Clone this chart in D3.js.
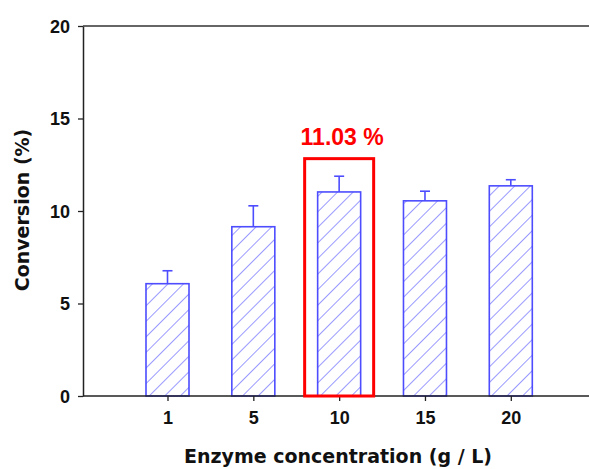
<!DOCTYPE html>
<html>
<head>
<meta charset="utf-8">
<script src="https://cdn.jsdelivr.net/npm/d3@7"></script>
<style>
  body { margin: 0; background: #fff; }
  svg { display: block; }
  .tick text { font-family: "Liberation Sans", Arial, sans-serif; font-weight: bold; font-size: 18px; fill: #111; }
  .axisTitle { font-family: "DejaVu Sans", sans-serif; font-weight: bold; font-size: 19px; fill: #111; }
</style>
</head>
<body>
<svg id="chart" width="589" height="469"></svg>
<script>
const categories = ['1', '5', '10', '15', '20']
const conversion = [6.07, 9.15, 11.03, 10.55, 11.36]
const errors = [0.70, 1.13, 0.85, 0.52, 0.33]
const yTicks = [0, 5, 10, 15, 20]
const highlightCat = '10'
const highlightLabel = '11.03 %'
const highlightTop = 12.83

const dim = { width: 589, height: 469, margin: { top: 26, left: 83, bottom: 73 } }
const blue = '#4d4dff'

const svg = d3.select('#chart')

const xScale = d3.scalePoint()
  .domain(categories)
  .range([167.5, 510.8])

const yScale = d3.scaleLinear()
  .domain([0, 20])
  .range([dim.height - dim.margin.bottom, dim.margin.top])

// hatch pattern for the bars
const defs = svg.append('defs')
const pat = defs.append('pattern')
  .attr('id', 'hatch')
  .attr('patternUnits', 'userSpaceOnUse')
  .attr('width', 11)
  .attr('height', 11)
  .attr('patternTransform', 'rotate(45)')
pat.append('line')
  .attr('x1', 0).attr('y1', 0).attr('x2', 0).attr('y2', 11)
  .attr('stroke', '#6262ff')
  .attr('stroke-width', 1.3)

const barW = 43
const data = categories.map((c, i) => ({ cat: c, value: conversion[i], err: errors[i] }))

// bars
svg.append('g').selectAll('rect')
  .data(data)
  .join('rect')
  .attr('x', d => xScale(d.cat) - barW / 2)
  .attr('y', d => yScale(d.value))
  .attr('width', barW)
  .attr('height', d => yScale(0) - yScale(d.value))
  .attr('fill', 'url(#hatch)')
  .attr('stroke', blue)
  .attr('stroke-width', 1.6)

// error bars
const eb = svg.append('g').attr('stroke', blue).attr('stroke-width', 1.6)
eb.selectAll('line.stem')
  .data(data)
  .join('line')
  .attr('class', 'stem')
  .attr('x1', d => xScale(d.cat)).attr('x2', d => xScale(d.cat))
  .attr('y1', d => yScale(d.value)).attr('y2', d => yScale(d.value + d.err))
eb.selectAll('line.cap')
  .data(data)
  .join('line')
  .attr('class', 'cap')
  .attr('x1', d => xScale(d.cat) - 5).attr('x2', d => xScale(d.cat) + 5)
  .attr('y1', d => yScale(d.value + d.err)).attr('y2', d => yScale(d.value + d.err))

// y axis
svg.append('g')
  .attr('transform', `translate(${dim.margin.left},0)`)
  .call(d3.axisLeft(yScale).tickValues(yTicks).tickSize(5).tickSizeOuter(0).tickPadding(8))
  .call(g => g.select('.domain').attr('stroke', '#222').attr('stroke-width', 1.5))
  .call(g => g.selectAll('.tick line').attr('stroke', '#222').attr('stroke-width', 1.3))
  .call(g => g.selectAll('.tick text').attr('dy', '0.36em'))

// x axis
const xAx = svg.append('g')
  .attr('transform', `translate(0,${yScale(0)})`)
  .call(d3.axisBottom(xScale).tickSize(5).tickPadding(10))
xAx.select('.domain').remove()
xAx.selectAll('.tick line').attr('stroke', '#222').attr('stroke-width', 1.3)
xAx.append('line')
  .attr('x1', dim.margin.left).attr('x2', dim.width)
  .attr('stroke', '#222').attr('stroke-width', 1.5)

// top frame line
svg.append('line')
  .attr('x1', dim.margin.left).attr('x2', dim.width)
  .attr('y1', yScale(20)).attr('y2', yScale(20))
  .attr('stroke', '#333').attr('stroke-width', 1.5)

// highlight box and label
const hx = xScale(highlightCat)
svg.append('rect')
  .attr('x', hx - 34.5)
  .attr('y', yScale(highlightTop))
  .attr('width', 69)
  .attr('height', yScale(0) - yScale(highlightTop))
  .attr('fill', 'none')
  .attr('stroke', '#ff0000')
  .attr('stroke-width', 3)
svg.append('text')
  .attr('x', hx + 3)
  .attr('y', yScale(highlightTop) - 14)
  .attr('text-anchor', 'middle')
  .attr('font-family', '"Liberation Sans", Arial, sans-serif')
  .attr('font-weight', 'bold')
  .attr('font-size', 23)
  .attr('fill', '#ff0000')
  .text(highlightLabel)

// axis titles
svg.append('text')
  .attr('class', 'axisTitle')
  .attr('x', 338).attr('y', 463)
  .attr('text-anchor', 'middle')
  .text('Enzyme concentration (g / L)')
svg.append('text')
  .attr('class', 'axisTitle')
  .attr('transform', 'translate(29,210) rotate(-90)')
  .attr('text-anchor', 'middle')
  .text('Conversion (%)')
</script>
</body>
</html>
